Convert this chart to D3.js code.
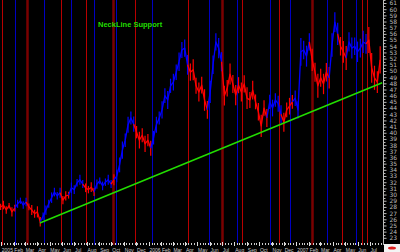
<!DOCTYPE html>
<html>
<head>
<meta charset="utf-8">
<script src="https://cdn.jsdelivr.net/npm/d3@7"></script>
<style>
  body { margin: 0; background: #000; }
  svg { display: block; }
</style>
</head>
<body>
<svg id="chart" width="400" height="252"></svg>
<script>
// weekly closes, first one on the week ending 2004-12-31
var firstWeek = "2004-12-31";
var weeklyClose = [
  28.0, 28.3, 27.5, 28.2, 27.2, 27.8, 28.5, 29.0, 28.3, 28.8, 28.0, 27.5, 26.9, 27.2, 25.6,
  26.5, 27.5, 28.5, 29.5, 30.4, 29.8, 30.3, 29.1, 29.8, 29.9, 31.1, 30.8, 31.9, 32.4, 31.7,
  31.1, 30.8, 31.2, 30.4, 31.7, 32.2, 31.4, 32.0, 32.4, 31.7, 32.4,
  33.0, 34.8, 37.2, 38.8, 41.3, 42.4, 41.4, 40.1, 38.8, 39.6, 38.2, 38.8, 37.5,
  39.2, 41.3, 42.4, 43.7, 46.0, 45.3, 47.6, 48.2, 49.8, 51.5, 53.4, 53.7, 51.0,
  49.8, 50.2, 47.6, 46.6, 47.7, 45.3, 43.7, 46.6, 51.0, 54.7, 53.7, 51.5,
  46.0, 47.2, 49.5, 47.9, 46.1, 47.7, 46.6, 47.9, 45.6,
  45.3, 46.9, 45.0, 43.4, 41.1, 44.0, 42.4, 45.0, 44.0, 45.3, 44.7, 43.0, 41.7, 43.7, 44.3, 45.0, 45.6, 43.7,
  53.1, 53.4, 52.4, 54.7, 51.8, 49.8, 47.6, 48.9, 47.9, 49.8, 48.9,
  54.2, 57.9, 56.0, 54.0, 53.1, 52.1, 54.7, 53.7, 54.0, 53.1, 53.7, 54.7, 54.4, 55.0, 50.5, 48.9, 48.2, 51.8
];

// weekly high-low range, in dollars
var weeklyRange = [
  1.0, 1.4, 1.2, 0.9, 1.5, 1.1, 1.3, 1.0, 1.2, 1.4, 1.1, 1.6, 1.3, 1.8, 1.5,
  1.2, 1.5, 1.3, 1.7, 1.4, 1.2, 1.6, 1.3, 1.5, 1.1, 1.7, 1.4, 1.2, 1.6, 1.3,
  1.4, 1.2, 1.6, 1.3, 1.5, 1.1, 1.4, 1.2, 1.6, 1.3, 1.8,
  2.0, 2.4, 2.8, 2.2, 2.6, 2.1, 2.5, 2.0, 2.7, 2.3, 2.6, 2.0, 2.4,
  2.2, 2.6, 2.1, 2.8, 2.4, 2.9, 2.3, 2.7, 2.5, 3.0, 2.6, 2.8, 3.2,
  2.8, 3.4, 2.6, 3.1, 2.7, 3.5, 2.9, 3.6, 3.0, 2.8, 3.3, 3.1,
  3.2, 2.7, 3.4, 2.9, 3.3, 2.6, 3.1, 2.8, 3.5,
  2.6, 3.0, 2.4, 2.8, 3.6, 2.5, 2.9, 2.3, 2.7, 2.2, 2.6, 2.9, 3.1, 2.4, 2.7, 2.2, 2.5, 2.8,
  4.5, 3.0, 3.4, 2.8, 3.6, 3.1, 3.9, 2.9, 3.3, 3.0, 3.5,
  3.8, 3.2, 3.6, 3.0, 3.5, 3.9, 3.1, 3.4, 2.8, 3.3, 3.0, 3.6, 3.2, 4.2, 4.8, 3.9, 3.5, 4.4
];

// trend colour of the close line, as [colour, number of weeks]
var trendRuns = [
  ["red", 6], ["blue", 4], ["red", 5], ["blue", 7], ["red", 3], ["blue", 5],
  ["red", 4], ["blue", 6], ["red", 1], ["blue", 7], ["red", 6], ["blue", 13],
  ["red", 7], ["blue", 5], ["red", 16], ["blue", 5], ["red", 4], ["blue", 6],
  ["red", 7], ["blue", 3], ["red", 3], ["blue", 7], ["red", 5]
];

// signal dates drawn as vertical lines
var redEvents = ["2005-01-03", "2005-05-29", "2005-07-29", "2005-11-27", "2006-04-07",
  "2006-08-20", "2006-11-19", "2007-04-24", "2007-06-12", "2007-06-24"];
var majorRedEvents = ["2005-03-06", "2005-10-04", "2006-06-30", "2007-02-09"];
var blueEvents = ["2005-02-04", "2005-04-17", "2005-06-22", "2005-08-20", "2005-10-11",
  "2006-01-08", "2006-05-31", "2006-08-06", "2006-10-28", "2006-12-17", "2007-03-18", "2007-05-28"];

// neckline support, two anchor points [date, price]
var neckline = [["2005-04-07", 25.4], ["2007-08-01", 48.1]];

var dateRange = ["2005-01-01", "2007-08-03"];
var priceRange = [22, 61];
var priceTicks = d3.range(23, 62);
var titleText = "NeckLine Support";

var parse = d3.timeParse("%Y-%m-%d");
var svg = d3.select("#chart");
var plotRight = 383, plotBottom = 245;

svg.append("rect").attr("width", 400).attr("height", 252).attr("fill", "#000");

var x = d3.scaleTime().domain(dateRange.map(parse)).range([1, plotRight]);
var y = d3.scaleLinear().domain(priceRange).range([244, 3]);

svg.append("clipPath").attr("id", "plotclip")
  .append("rect").attr("x", 0).attr("y", 0).attr("width", plotRight).attr("height", plotBottom);

var plot = svg.append("g").attr("clip-path", "url(#plotclip)");

// vertical signal lines
function eventLines(list, color, width) {
  plot.selectAll(null).data(list).enter().append("line")
    .attr("x1", function(d) { return Math.round(x(parse(d))) + 0.5; })
    .attr("x2", function(d) { return Math.round(x(parse(d))) + 0.5; })
    .attr("y1", 0).attr("y2", plotBottom)
    .attr("stroke", color).attr("stroke-width", width);
}
eventLines(majorRedEvents, "#7a0000", 2.5);
eventLines(redEvents, "#b80000", 1);
eventLines(blueEvents, "#0000c0", 1);

// close series
var start = parse(firstWeek);
var points = weeklyClose.map(function(v, i) {
  return { date: d3.timeDay.offset(start, 7 * i), value: v, range: weeklyRange[i] };
});

var line = d3.line()
  .x(function(d) { return x(d.date); })
  .y(function(d) { return y(d.value); });

var idx = 0;
trendRuns.forEach(function(r) {
  var color = r[0] == "red" ? "#ff0000" : "#0000ff";
  var from = Math.max(0, idx - 1);
  var seg = points.slice(from, idx + r[1]);
  var own = points.slice(idx, idx + r[1]);
  idx += r[1];
  plot.append("path")
    .datum(seg)
    .attr("d", line)
    .attr("fill", "none")
    .attr("stroke", color)
    .attr("stroke-width", 1.3)
    .attr("stroke-linejoin", "round");
  // weekly high-low spread
  plot.selectAll(null).data(own).enter().append("line")
    .attr("x1", function(d) { return x(d.date); })
    .attr("x2", function(d) { return x(d.date); })
    .attr("y1", function(d) { return y(d.value - d.range / 2); })
    .attr("y2", function(d) { return y(d.value + d.range / 2); })
    .attr("stroke", color)
    .attr("stroke-width", 1.2);
});

// neckline
plot.append("line")
  .attr("x1", x(parse(neckline[0][0]))).attr("y1", y(neckline[0][1]))
  .attr("x2", x(parse(neckline[1][0]))).attr("y2", y(neckline[1][1]))
  .attr("stroke", "#22dd00").attr("stroke-width", 1.5);

svg.append("text")
  .attr("x", 98).attr("y", 27)
  .attr("fill", "#22dd00")
  .attr("font-family", "Liberation Sans, Arial, sans-serif")
  .attr("font-weight", "bold")
  .attr("font-size", 7.5)
  .text(titleText);

// right price axis
var yAxis = d3.axisRight(y).tickValues(priceTicks).tickSize(3).tickPadding(3)
  .tickFormat(d3.format("d"));
var ya = svg.append("g").attr("transform", "translate(" + (plotRight + 0.5) + ",0)").call(yAxis);
ya.select(".domain").attr("stroke", "#bbb").attr("d", "M0,0V" + plotBottom);
ya.selectAll(".tick line").attr("stroke", "#bbb");
ya.selectAll("text").attr("fill", "#bbb").attr("font-size", 6)
  .attr("font-family", "DejaVu Sans, sans-serif");
// half-unit minor ticks
ya.selectAll(null).data(priceTicks).enter().append("line")
  .attr("x1", 0).attr("x2", 2)
  .attr("y1", function(d) { return Math.round(y(d + 0.5)) + 0.5; })
  .attr("y2", function(d) { return Math.round(y(d + 0.5)) + 0.5; })
  .attr("stroke", "#bbb");

// bottom date axis
var months = d3.timeMonth.range(parse("2005-01-01"), parse("2007-08-01"));
var fmt = function(d) { return d.getMonth() == 0 ? d3.timeFormat("%Y")(d) : d3.timeFormat("%b")(d); };
var xa = svg.append("g").attr("transform", "translate(0," + plotBottom + ")");
xa.selectAll(null).data(d3.timeWeek.range(x.domain()[0], x.domain()[1])).enter().append("line")
  .attr("x1", function(d) { return Math.round(x(d)) + 0.5; })
  .attr("x2", function(d) { return Math.round(x(d)) + 0.5; })
  .attr("y1", -2).attr("y2", 0)
  .attr("stroke", "#ccc");
xa.selectAll(null).data(months).enter().append("line")
  .attr("x1", function(d) { return Math.round(x(d)) + 0.5; })
  .attr("x2", function(d) { return Math.round(x(d)) + 0.5; })
  .attr("y1", -3).attr("y2", 1)
  .attr("stroke", "#ddd");
xa.selectAll(null).data(months).enter().append("text")
  .attr("x", function(d) { return x(d) + 0.8; })
  .attr("y", 6.5)
  .attr("fill", "#ccc")
  .attr("font-size", 5)
  .attr("font-family", "Liberation Sans, Arial, sans-serif")
  .text(fmt);

// corner badge
svg.append("rect").attr("x", 384).attr("y", 244).attr("width", 16).attr("height", 8).attr("fill", "#f4f4f4");
svg.append("ellipse").attr("cx", 392).attr("cy", 248).attr("rx", 4).attr("ry", 1.6).attr("fill", "#e02020");
</script>
</body>
</html>
